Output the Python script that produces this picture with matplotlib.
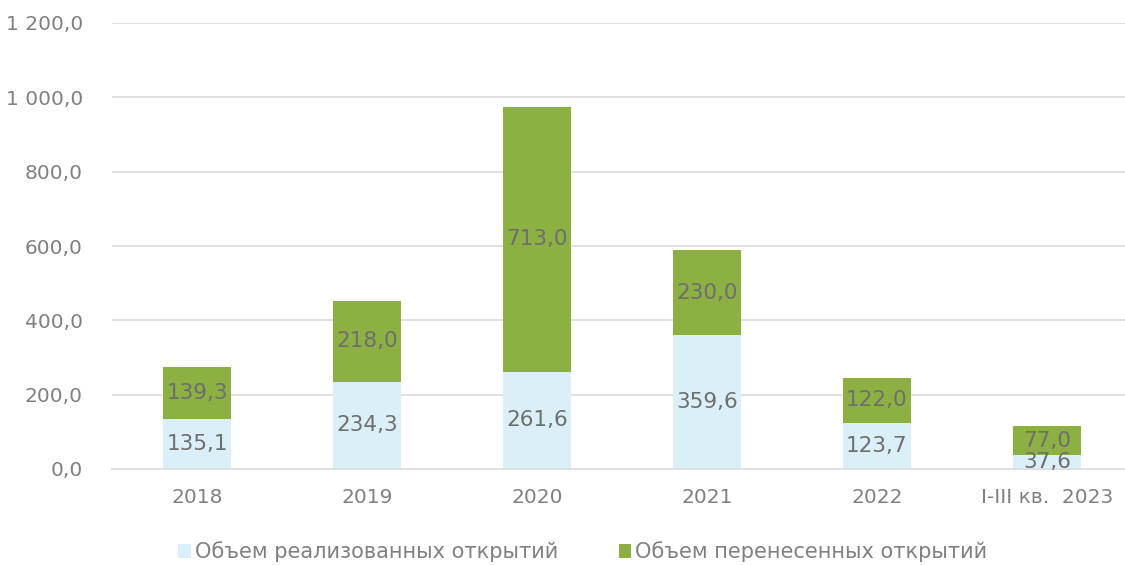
import matplotlib
matplotlib.use("Agg")
from matplotlib import pyplot as plt
from matplotlib.ticker import FuncFormatter

years = ["2018", "2019", "2020", "2021", "2022", "I-III кв.  2023"]
realized = [135.1, 234.3, 261.6, 359.6, 123.7, 37.6]
transferred = [139.3, 218.0, 713.0, 230.0, 122.0, 77.0]
series_names = ["Объем реализованных открытий", "Объем перенесенных открытий"]

blue = "#DAEFF8"
green = "#8DB042"
text_gray = "#808080"
label_gray = "#6E6E6E"

plt.rcParams["font.family"] = ["DejaVu Sans"]

fig = plt.figure(figsize=(11.25, 5.65), dpi=100)
ax = fig.add_axes([112 / 1125, 96 / 565, 1020 / 1125, 446 / 565])

x = range(len(years))
b1 = ax.bar(x, realized, width=0.4, color=blue, label=series_names[0], zorder=2)
b2 = ax.bar(x, transferred, width=0.4, bottom=realized, color=green,
            label=series_names[1], zorder=2)

def fmt(v):
    s = "{:,.1f}".format(v).replace(",", " ").replace(".", ",")
    return s

for bars in (b1, b2):
    ax.bar_label(bars, labels=[fmt(b.get_height()) for b in bars],
                 label_type="center", color=label_gray, fontsize=15.5)

ax.set_ylim(0, 1200)
ax.set_xlim(-0.5, len(years) - 0.5)
ax.set_yticks(range(0, 1201, 200))
ax.yaxis.set_major_formatter(FuncFormatter(lambda v, p: fmt(v)))
ax.set_xticks(list(x))
ax.set_xticklabels(years)
ax.tick_params(axis="both", length=0, labelsize=14.5, labelcolor=text_gray)
ax.tick_params(axis="y", pad=21)
ax.tick_params(axis="x", pad=14)
ax.grid(axis="y", color="#E0E0E0", linewidth=1.4, zorder=0)
for s in ["top", "right", "left"]:
    ax.spines[s].set_visible(False)
ax.spines["bottom"].set_color("#E0E0E0")
ax.spines["bottom"].set_linewidth(1.4)

leg = fig.legend(loc="center", bbox_to_anchor=(583 / 1125, 1 - 552 / 565), ncol=2,
                 frameon=False, fontsize=15, handlelength=0.6, handleheight=0.6,
                 handletextpad=0.2, columnspacing=2.9)
for t in leg.get_texts():
    t.set_color(text_gray)

fig.savefig("out.png", dpi=100)
